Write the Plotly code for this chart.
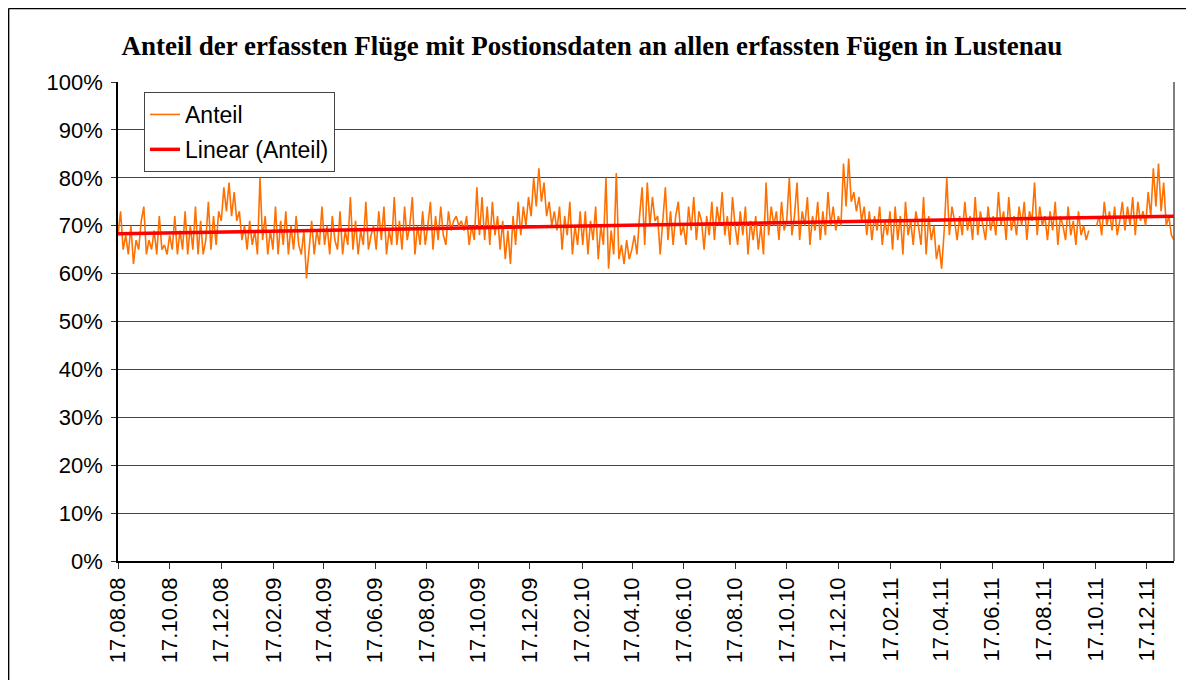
import numpy as np
import pandas as pd
import plotly.graph_objects as go

title_text = "<b>Anteil der erfassten Flüge mit Postionsdaten an allen erfassten Fügen in Lustenau</b>"
start_date = "2008-08-17"
end_date = "2012-01-18"

# Anteil in % (roughly every 3 days)
anteil = [
    68, 73, 65, 68, 64, 70, 62, 67, 65, 71,
    74, 64, 67, 65, 69, 64, 72, 65, 66, 64,
    68, 65, 72, 64, 69, 65, 73, 64, 70, 65,
    74, 64, 71, 64, 67, 75, 65, 72, 66, 73,
    71, 78, 73, 79, 72, 77, 71, 73, 67, 70,
    65, 71, 66, 69, 64, 80, 67, 72, 64, 69,
    65, 74, 64, 71, 66, 73, 64, 70, 65, 72,
    66, 64, 69, 59, 65, 71, 64, 69, 66, 74,
    66, 70, 64, 72, 67, 65, 73, 64, 69, 66,
    76, 65, 71, 64, 69, 66, 75, 65, 68, 70,
    65, 73, 67, 74, 64, 69, 66, 76, 66, 71,
    65, 74, 67, 70, 76, 64, 70, 66, 73, 66,
    70, 75, 65, 72, 67, 74, 68, 66, 73, 69,
    71, 72, 70, 71, 69, 72, 66, 70, 67, 78,
    68, 76, 67, 74, 66, 75, 68, 72, 65, 71,
    63, 69, 62, 72, 66, 75, 68, 74, 70, 76,
    72, 80, 74, 82, 75, 79, 72, 75, 70, 73,
    69, 74, 65, 72, 68, 75, 64, 70, 66, 73,
    66, 73, 64, 71, 67, 74, 63, 70, 66, 80,
    61, 69, 64, 81, 63, 66, 62, 67, 63, 65,
    68, 64, 72, 78, 66, 79, 70, 76, 71, 72,
    64, 71, 78, 67, 73, 66, 72, 75, 68, 70,
    66, 74, 69, 76, 67, 73, 71, 65, 72, 68,
    75, 67, 74, 70, 77, 68, 72, 66, 76, 70,
    66, 73, 68, 74, 64, 71, 67, 72, 65, 70,
    64, 79, 68, 74, 70, 73, 67, 75, 69, 71,
    80, 68, 72, 79, 67, 73, 70, 76, 66, 72,
    69, 75, 67, 73, 68, 77, 70, 74, 69, 72,
    70, 83, 74, 84, 75, 77, 73, 76, 71, 74,
    68, 73, 67, 72, 69, 74, 66, 71, 68, 73,
    65, 74, 67, 72, 64, 75, 68, 71, 66, 73,
    70, 66, 76, 64, 72, 67, 70, 63, 66, 61,
    69, 80, 68, 74, 71, 67, 72, 68, 75, 69,
    72, 67, 76, 68, 73, 70, 67, 74, 69, 72,
    68, 77, 70, 73, 67, 76, 69, 72, 68, 74,
    70, 75, 67, 73, 71, 79, 68, 74, 70, 72,
    67, 73, 69, 75, 66, 72, 70, 67, 74, 68,
    71, 66, 73, 68, 70, 67, 69, None, None, 70,
    72, 68, 75, 70, 73, 69, 74, 68, 71, 75,
    69, 74, 70, 76, 68, 75, 71, 73, 70, 77,
    72, 82, 74, 83, 73, 79, 70, 72, 68, 67,
]

tick_dates = [
    "2008-08-17", "2008-10-17", "2008-12-17", "2009-02-17", "2009-04-17",
    "2009-06-17", "2009-08-17", "2009-10-17", "2009-12-17", "2010-02-17",
    "2010-04-17", "2010-06-17", "2010-08-17", "2010-10-17", "2010-12-17",
    "2011-02-17", "2011-04-17", "2011-06-17", "2011-08-17", "2011-10-17",
    "2011-12-17",
]
tick_labels = [
    "17.08.08", "17.10.08", "17.12.08", "17.02.09", "17.04.09",
    "17.06.09", "17.08.09", "17.10.09", "17.12.09", "17.02.10",
    "17.04.10", "17.06.10", "17.08.10", "17.10.10", "17.12.10",
    "17.02.11", "17.04.11", "17.06.11", "17.08.11", "17.10.11",
    "17.12.11",
]
y_ticks = list(range(0, 101, 10))
y_labels = [f"{v}%" for v in y_ticks]

dates = pd.date_range(start_date, end_date, periods=len(anteil))
vals = np.array([np.nan if v is None else v for v in anteil], dtype=float)

# linear trend (as Excel's "Linear" trendline)
t = (dates - dates[0]).days.values.astype(float)
mask = ~np.isnan(vals)
slope, intercept = np.polyfit(t[mask], vals[mask], 1)
trend = slope * t + intercept

fig = go.Figure()
fig.add_trace(go.Scatter(
    x=dates, y=anteil, mode="lines", name="Anteil",
    line=dict(color="#FF7000", width=1.6), legendgroup="a",
))
fig.add_trace(go.Scatter(
    x=[dates[0], dates[-1]], y=[trend[0], trend[-1]], mode="lines",
    name="Linear (Anteil)", line=dict(color="#FF0000", width=3.5), legendgroup="b",
))

# page has an 8px body margin: figure placed at (8, 8)
OFF = 8
W, H = 1194 - OFF, 680 - OFF
L, T = 118 - OFF, 82 - OFF
R = W - (1174 - OFF)
B = H - (561 - OFF)
pw, ph = W - L - R, H - T - B

def px_x(px):  # page pixel -> paper
    return (px - OFF - L) / pw

def px_y(py):
    return (H - B - (py - OFF)) / ph

shapes = [
    # outer chart frame (top and left visible)
    dict(type="line", xref="paper", yref="paper", x0=px_x(8.5), x1=px_x(1210),
         y0=px_y(8.5), y1=px_y(8.5), line=dict(color="black", width=1.5)),
    dict(type="line", xref="paper", yref="paper", x0=px_x(8.6), x1=px_x(8.6),
         y0=px_y(8.5), y1=px_y(700), line=dict(color="black", width=1.5)),
    # plot area border (right)
    dict(type="line", xref="paper", yref="paper", x0=1, x1=1, y0=0, y1=1,
         line=dict(color="#555555", width=1.5)),
]

fig.update_layout(
    width=W, height=H,
    margin=dict(l=L, r=R, t=T, b=B),
    paper_bgcolor="white", plot_bgcolor="white",
    title=dict(text=title_text, x=(592 - OFF) / W, xanchor="center",
               y=1 - (46 - OFF) / H, yanchor="middle",
               font=dict(family="Liberation Serif", size=27, color="black")),
    showlegend=True,
    legend=dict(x=px_x(144), y=px_y(92), xanchor="left", yanchor="top",
                bgcolor="white", bordercolor="#444444", borderwidth=1,
                font=dict(family="Liberation Sans", size=23, color="black"),
                tracegroupgap=2, traceorder="grouped"),
    shapes=shapes,
    font=dict(family="Liberation Sans", color="black"),
)
fig.update_xaxes(
    type="date", range=[start_date, end_date],
    tickvals=tick_dates, ticktext=tick_labels, tickangle=-90,
    tickfont=dict(family="Liberation Sans", size=22, color="black"),
    ticks="outside", ticklen=6, tickcolor="#333333",
    showline=True, linecolor="black", linewidth=1.5,
    showgrid=False, zeroline=False,
)
fig.update_yaxes(
    range=[0, 100], tickvals=y_ticks, ticktext=y_labels,
    tickfont=dict(family="Liberation Sans", size=22, color="black"),
    ticks="outside", ticklen=5, tickcolor="#333333", ticklabelstandoff=4,
    showline=True, linecolor="black", linewidth=1.5,
    showgrid=True, gridcolor="#444444", gridwidth=1, zeroline=False,
)

fig.write_html("out.html")
